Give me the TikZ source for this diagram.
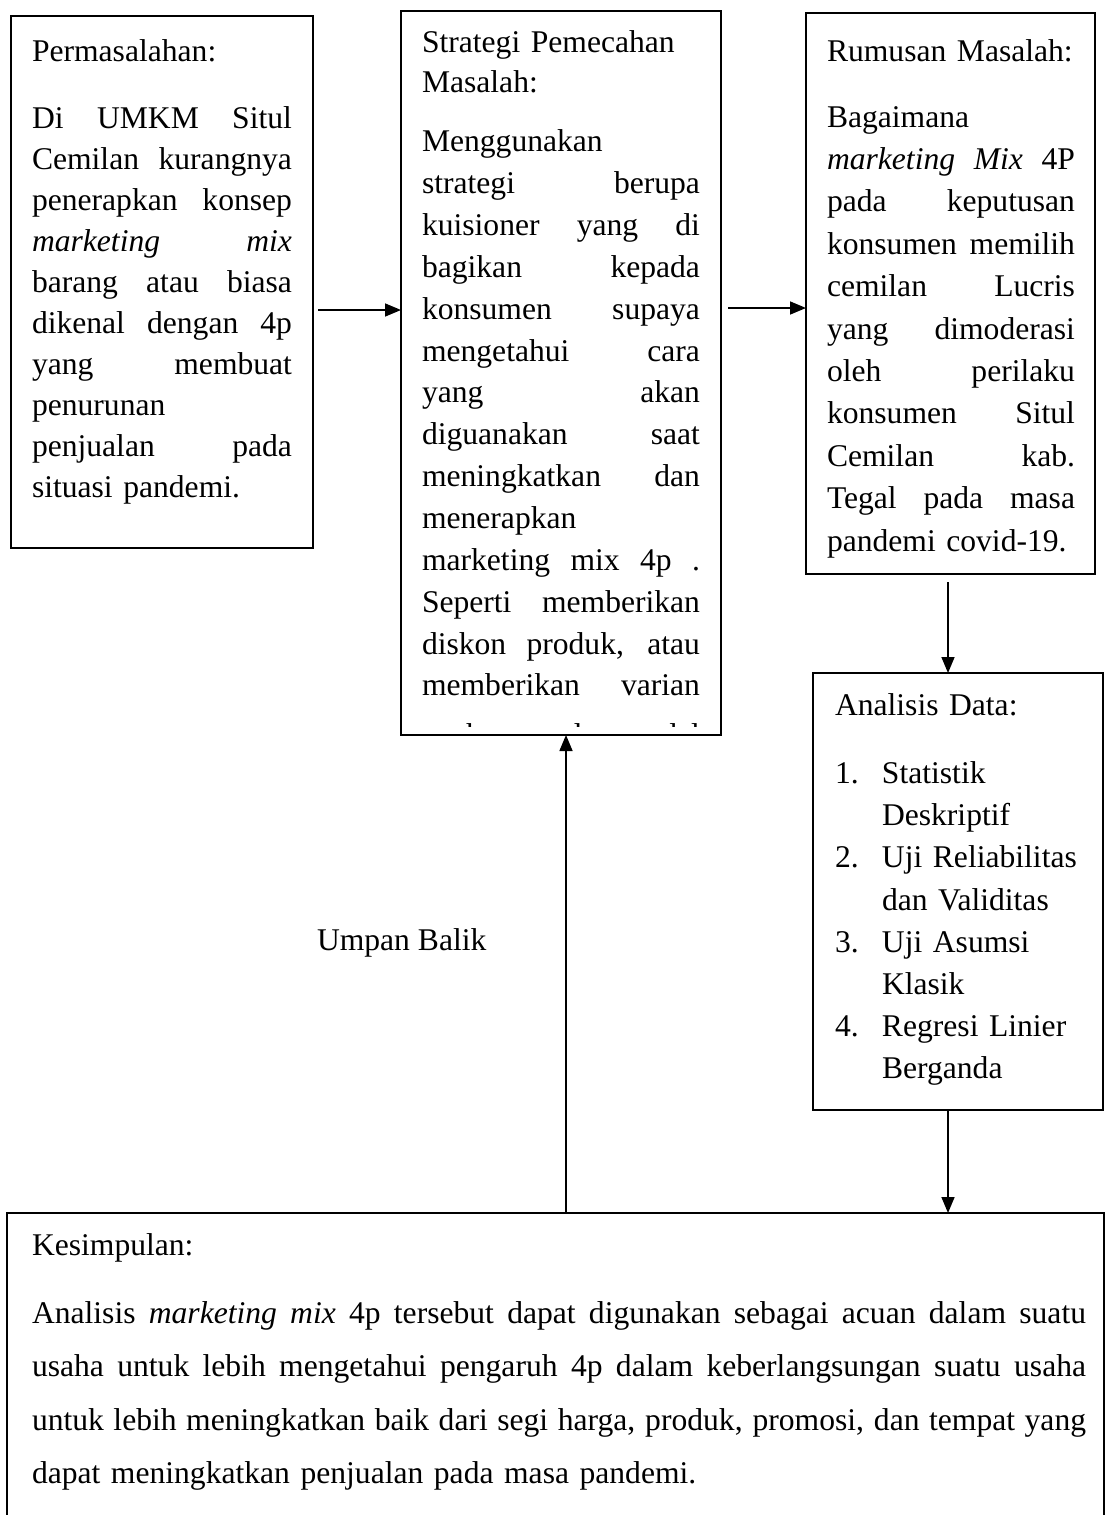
\documentclass[tikz,border=0pt]{standalone}
\usepackage{fontspec}
\setmainfont{Liberation Serif}
\usetikzlibrary{arrows.meta}
\newcommand{\tw}{260pt}
\newcommand{\J}[1]{\leavevmode\hbox to \tw{\spaceskip=7.9pt plus 1fill minus 3pt\relax #1}}
\newcommand{\NumItem}[2]{\makebox[47pt][l]{#1}#2}
\newcommand{\Cont}[1]{\hspace*{47pt}#1}
\tikzset{
  box/.style={draw, line width=1.5pt, inner sep=0pt, outer sep=0pt, anchor=north west},
  txt/.style={inner sep=0pt, outer sep=0pt, anchor=base west, align=left},
  arr/.style={line width=1.6pt, -{Triangle[length=16pt,width=13pt]}},
}
\begin{document}
\begin{tikzpicture}[x=1pt,y=-1pt]
\useasboundingbox (0,0) rectangle (1106,1515);
\fill[white] (0,0) rectangle (1106,1515);
\clip (0,0) rectangle (1106,1515);

% boxes
\node[box, minimum width=302pt, minimum height=532pt] (b1) at (11,16) {};
\node[box, minimum width=320pt, minimum height=724pt] (b2) at (401,11) {};
\node[box, minimum width=289pt, minimum height=561pt] (b3) at (806,13) {};
\node[box, minimum width=290pt, minimum height=437pt] (b4) at (813,673) {};
\node[box, minimum width=1097pt, minimum height=340pt] (b5) at (7,1213) {};

% box 1 text
\node[txt, text width=260pt, font=\fontsize{31.6}{41}\selectfont\renewcommand{\tw}{260pt}] (t1) at (32,61) {%
Permasalahan:\\[26pt]
\J{Di UMKM Situl}\\
\J{Cemilan kurangnya}\\
\J{penerapkan konsep}\\
\J{\textit{marketing} \textit{mix}}\\
\J{barang atau biasa}\\
\J{dikenal dengan 4p}\\
\J{yang membuat}\\
penurunan\\
\J{penjualan pada}\\
situasi pandemi.};

% box 2 text (clipped at the box bottom)
\begin{scope}
\clip (b2.north west) rectangle ([yshift=9pt]b2.south east);
\node[txt, text width=278pt, font=\fontsize{31.6}{41.85}\selectfont\renewcommand{\tw}{278pt}] (t2) at (422,52) {%
Strategi Pemecahan\\[-1.85pt]
Masalah:\\[18pt]
Menggunakan\\
\J{strategi berupa}\\
\J{kuisioner yang di}\\
\J{bagikan kepada}\\
\J{konsumen supaya}\\
\J{mengetahui cara}\\
\J{yang akan}\\
\J{diguanakan saat}\\
\J{meningkatkan dan}\\
menerapkan\\
\J{marketing mix 4p .}\\
\J{Seperti memberikan}\\
\J{diskon produk, atau}\\
\J{memberikan varian}\\[8pt]
\J{aneka rasa dan model}};
\end{scope}

% box 3 text
\node[txt, text width=248pt, font=\fontsize{31.6}{42.4}\selectfont\renewcommand{\tw}{248pt}] (t3) at (827,61) {%
Rumusan Masalah:\\[23.6pt]
Bagaimana\\
\J{\textit{marketing Mix} 4P}\\
\J{pada keputusan}\\
\J{konsumen memilih}\\
\J{cemilan Lucris}\\
\J{yang dimoderasi}\\
\J{oleh perilaku}\\
\J{konsumen Situl}\\
\J{Cemilan kab.}\\
\J{Tegal pada masa}\\
pandemi covid-19.};

% box 4 text
\node[txt, text width=260pt, font=\fontsize{31.6}{42.15}\selectfont] (t4) at (835,715) {%
Analisis Data:\\[26.5pt]
\NumItem{1.}{Statistik}\\
\Cont{Deskriptif}\\
\NumItem{2.}{Uji Reliabilitas}\\
\Cont{dan Validitas}\\
\NumItem{3.}{Uji Asumsi}\\
\Cont{Klasik}\\
\NumItem{4.}{Regresi Linier}\\
\Cont{Berganda}};

% box 5 text
\node[txt, text width=1054pt, font=\fontsize{31.6}{53.4}\selectfont\renewcommand{\tw}{1054pt}] (t5) at (32,1255) {%
Kesimpulan:\\[15pt]
\J{Analisis \textit{marketing mix} 4p tersebut dapat digunakan sebagai acuan dalam suatu}\\
\J{usaha untuk lebih mengetahui pengaruh 4p dalam keberlangsungan suatu usaha}\\
\J{untuk lebih meningkatkan baik dari segi harga, produk, promosi, dan tempat yang}\\
dapat meningkatkan penjualan pada masa pandemi.};

% label
\node[txt, font=\fontsize{31.6}{40}\selectfont] (lbl) at (317,950) {Umpan Balik};

% connectors
\draw[arr, shorten <=5pt] (b1.east |- 0,310) -- (b2.west |- 0,310);
\draw[arr, shorten <=7pt] (b2.east |- 0,308) -- (b3.west |- 0,308);
\draw[arr, shorten <=8pt] (b3.south -| 948,0) -- (b4.north -| 948,0);
\draw[arr] (b4.south -| 948,0) -- (b5.north -| 948,0);
\draw[arr] (b5.north -| 566,0) -- (b2.south -| 566,0);
\end{tikzpicture}
\end{document}
